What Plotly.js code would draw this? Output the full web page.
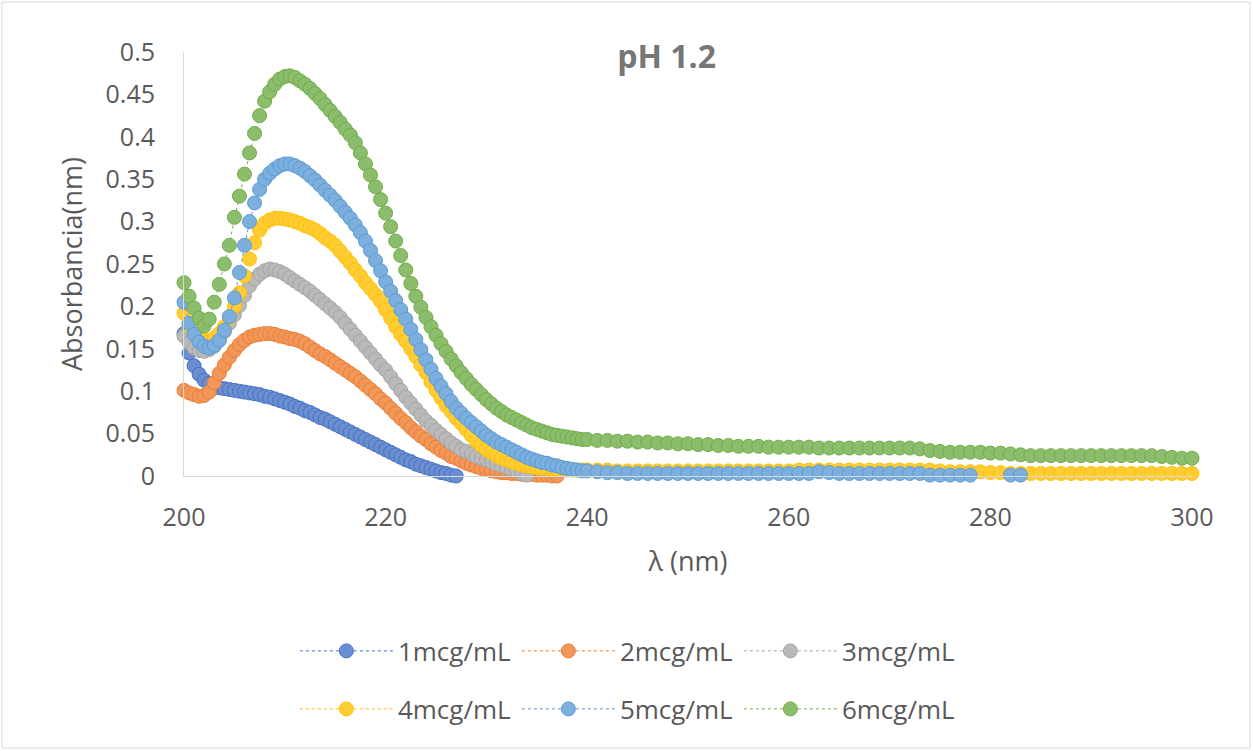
<!DOCTYPE html>
<html>
<head>
<meta charset="utf-8">
<script src="https://cdn.plot.ly/plotly-3.0.1.min.js"></script>
<style>html,body{margin:0;padding:0;background:#fff;}#chart{width:1253px;height:751px;}</style>
</head>
<body>
<div id="chart"></div>
<script>
// wavelength grid (nm) as sampled
const wavelength = [
200,200.5,201,201.5,202,202.5,203,203.5,204,204.5,
205,205.5,206,206.5,207,207.5,208,208.5,209,209.5,
210,210.5,211,211.5,212,212.5,213,213.5,214,214.5,
215,215.5,216,216.5,217,217.5,218,218.5,219,219.5,
220,220.5,221,221.5,222,222.5,223,223.5,224,224.5,
225,225.5,226,226.5,227,227.5,228,228.5,229,229.5,
230,230.5,231,231.5,232,232.5,233,233.5,234,234.5,
235,235.5,236,236.5,237,237.5,238,238.5,239,239.5,
240,
241,242,243,244,245,246,247,248,249,250,
251,252,253,254,255,256,257,258,259,260,
261,262,263,264,265,266,267,268,269,270,
271,272,273,274,275,276,277,278,279,280,
281,282,283,284,285,286,287,288,289,290,
291,292,293,294,295,296,297,298,299,300];

const seriesNames = ['1mcg/mL','2mcg/mL','3mcg/mL','4mcg/mL','5mcg/mL','6mcg/mL'];

const abs1 = [
0.168,0.145,0.130,0.120,0.113,0.109,0.106,0.104,0.103,0.102,
0.101,0.100,0.099,0.098,0.097,0.096,0.094,0.093,0.091,0.089,
0.087,0.085,0.082,0.080,0.077,0.075,0.072,0.069,0.067,0.064,
0.061,0.058,0.055,0.052,0.049,0.046,0.043,0.040,0.037,0.034,
0.031,0.028,0.025,0.022,0.019,0.017,0.014,0.012,0.010,0.008,
0.006,0.004,0.003,0.001,0.000];

const abs2 = [
0.101,0.098,0.096,0.094,0.095,0.099,0.110,0.121,0.131,0.140,
0.148,0.155,0.160,0.164,0.166,0.167,0.168,0.168,0.167,0.165,
0.164,0.162,0.161,0.159,0.156,0.152,0.148,0.144,0.141,0.137,
0.133,0.129,0.125,0.121,0.117,0.112,0.107,0.102,0.097,0.091,
0.086,0.080,0.074,0.068,0.063,0.057,0.052,0.047,0.043,0.038,
0.034,0.030,0.027,0.023,0.021,0.018,0.015,0.013,0.011,0.009,
0.008,0.006,0.005,0.004,0.004,0.003,0.003,0.002,0.002,0.002,
0.001,0.001,0.001,0.000,0.000];

const abs3 = [
0.165,0.157,0.151,0.148,0.147,0.149,0.153,0.160,0.170,0.180,
0.190,0.201,0.213,0.224,0.232,0.238,0.242,0.244,0.243,0.241,
0.238,0.234,0.230,0.226,0.222,0.218,0.213,0.208,0.203,0.198,
0.193,0.187,0.180,0.173,0.166,0.159,0.152,0.145,0.138,0.131,
0.125,0.117,0.109,0.101,0.093,0.086,0.079,0.072,0.065,0.060,
0.054,0.049,0.044,0.039,0.035,0.031,0.029,0.026,0.023,0.021,
0.019,0.017,0.014,0.012,0.010,0.008,0.006,0.003,0.001];

const abs4 = [
0.192,0.178,0.168,0.162,0.160,0.160,0.163,0.168,0.176,0.187,
0.200,0.216,0.236,0.256,0.275,0.290,0.298,0.302,0.304,0.304,
0.303,0.302,0.300,0.298,0.295,0.293,0.290,0.286,0.281,0.277,
0.272,0.265,0.258,0.251,0.243,0.236,0.228,0.221,0.214,0.206,
0.196,0.186,0.176,0.167,0.159,0.150,0.141,0.131,0.122,0.111,
0.101,0.092,0.083,0.076,0.068,0.062,0.055,0.048,0.041,0.036,
0.031,0.028,0.024,0.021,0.019,0.017,0.015,0.013,0.012,0.011,
0.010,0.009,0.009,0.008,0.008,0.008,0.007,0.007,0.007,0.007,
0.007,
0.007,0.007,0.006,0.006,0.006,0.006,0.006,0.006,0.006,0.006,
0.006,0.006,0.006,0.006,0.006,0.006,0.006,0.006,0.006,0.006,
0.007,0.007,0.007,0.007,0.007,0.007,0.007,0.007,0.007,0.007,
0.007,0.007,0.007,0.007,0.006,0.005,0.005,0.005,0.005,0.004,
0.004,0.003,0.003,0.003,0.003,0.003,0.003,0.003,0.003,0.003,
0.003,0.003,0.003,0.003,0.003,0.003,0.003,0.003,0.003,0.003];

const abs5 = [
0.205,0.180,0.167,0.158,0.153,0.151,0.154,0.160,0.172,0.188,
0.210,0.240,0.272,0.300,0.322,0.338,0.350,0.357,0.362,0.366,
0.368,0.368,0.366,0.363,0.359,0.354,0.349,0.343,0.337,0.331,
0.325,0.318,0.311,0.304,0.296,0.287,0.277,0.266,0.254,0.242,
0.229,0.218,0.207,0.196,0.185,0.173,0.161,0.149,0.137,0.126,
0.115,0.106,0.097,0.088,0.080,0.074,0.068,0.063,0.058,0.053,
0.048,0.044,0.040,0.037,0.034,0.031,0.028,0.025,0.022,0.020,
0.018,0.016,0.015,0.013,0.012,0.010,0.009,0.008,0.007,0.006,
0.006,
0.005,0.004,0.004,0.003,0.003,0.003,0.003,0.003,0.003,0.003,
0.003,0.003,0.003,0.003,0.003,0.003,0.003,0.003,0.003,0.003,
0.003,0.003,0.005,0.004,0.003,0.003,0.003,0.003,0.003,0.003,
0.003,0.003,0.003,0.001,0.001,0.001,0.001,0.001,null,null,
null,0.001,0.001];

const abs6 = [
0.228,0.212,0.198,0.186,0.177,0.185,0.205,0.226,0.250,0.272,
0.305,0.330,0.356,0.381,0.404,0.425,0.442,0.453,0.462,0.468,
0.471,0.472,0.470,0.466,0.462,0.457,0.451,0.445,0.438,0.431,
0.424,0.417,0.409,0.402,0.393,0.381,0.368,0.355,0.341,0.326,
0.310,0.294,0.277,0.260,0.243,0.227,0.212,0.199,0.187,0.176,
0.166,0.156,0.147,0.138,0.130,0.122,0.115,0.108,0.102,0.096,
0.090,0.085,0.080,0.076,0.072,0.069,0.066,0.063,0.060,0.057,
0.055,0.053,0.051,0.049,0.048,0.047,0.046,0.045,0.044,0.043,
0.043,
0.042,0.042,0.041,0.041,0.040,0.040,0.039,0.039,0.038,0.038,
0.037,0.037,0.036,0.036,0.035,0.035,0.035,0.034,0.034,0.034,
0.034,0.034,0.033,0.033,0.033,0.033,0.033,0.033,0.033,0.033,
0.033,0.033,0.032,0.030,0.029,0.028,0.028,0.028,0.028,0.027,
0.027,0.026,0.025,0.024,0.024,0.024,0.024,0.024,0.024,0.024,
0.024,0.024,0.024,0.024,0.024,0.024,0.023,0.022,0.021,0.021];

const xTickVals = [200, 220, 240, 260, 280, 300];
const yTickVals = [0,0.05,0.1,0.15,0.2,0.25,0.3,0.35,0.4,0.45,0.5];
const yTickText = ['0','0.05','0.1','0.15','0.2','0.25','0.3','0.35','0.4','0.45','0.5'];

const lineColors = ['#4472C4','#ED7D31','#A5A5A5','#FFC000','#5B9BD5','#70AD47'];
const fillColors = ['#6A8ED0','#F1975A','#B9B9B9','#FFCD33','#7CAFDD','#8CBD6C'];

const seriesData = [abs1, abs2, abs3, abs4, abs5, abs6];
const FONT = '"Open Sans", "Noto Sans", sans-serif';
const TEXT = '#595959';

const traces = seriesData.map((vals, i) => ({
  type: 'scatter',
  mode: 'lines+markers',
  name: seriesNames[i],
  x: wavelength.slice(0, vals.length),
  y: vals,
  cliponaxis: false,
  connectgaps: false,
  legend: i < 3 ? 'legend' : 'legend2',
  line: {color: lineColors[i], width: 1, dash: 'dot'},
  marker: {size: 14, color: fillColors[i], line: {color: lineColors[i], width: 1}},
  hoverinfo: 'x+y+name'
}));

const legendBase = {
  orientation: 'h', xanchor: 'left', yanchor: 'middle',
  font: {family: FONT, size: 26, color: TEXT},
  bgcolor: 'rgba(0,0,0,0)', borderwidth: 0,
  itemwidth: 93, entrywidth: 114, entrywidthmode: 'pixels',
  traceorder: 'normal'
};

const layout = {
  width: 1253, height: 751,
  margin: {l: 184, r: 61, t: 52, b: 275, autoexpand: false},
  paper_bgcolor: '#ffffff', plot_bgcolor: '#ffffff',
  font: {family: FONT, color: TEXT},
  showlegend: true,
  title: {
    text: '<b>pH 1.2</b>',
    font: {family: FONT, size: 32, color: '#767676'},
    x: 0.532, xref: 'container', xanchor: 'center',
    y: 0.924, yref: 'container', yanchor: 'middle'
  },
  xaxis: {
    range: [200, 300], tickmode: 'array', tickvals: xTickVals,
    showline: true, linecolor: '#D9D9D9', linewidth: 1,
    showgrid: false, zeroline: false, ticks: '',
    ticklabelstandoff: 19,
    tickfont: {family: FONT, size: 25, color: TEXT},
    title: {text: 'λ (nm)', font: {family: FONT, size: 27, color: TEXT}, standoff: 20}
  },
  yaxis: {
    range: [0, 0.5], tickmode: 'array', tickvals: yTickVals, ticktext: yTickText,
    showline: true, linecolor: '#D9D9D9', linewidth: 1,
    showgrid: false, zeroline: false, ticks: '',
    ticklabelstandoff: 23,
    tickfont: {family: FONT, size: 25, color: TEXT},
    title: {text: 'Absorbancia(nm)', font: {family: FONT, size: 27, color: TEXT}, standoff: 15}
  },
  legend: Object.assign({}, legendBase, {x: 0.110, y: -0.4127}),
  legend2: Object.assign({}, legendBase, {x: 0.110, y: -0.5495}),
  shapes: [{
    type: 'rect', xref: 'paper', yref: 'paper',
    x0: -0.1806, x1: 1.0575, y0: -0.6415, y1: 1.1179,
    line: {color: '#D9D9D9', width: 1}, fillcolor: 'rgba(0,0,0,0)', layer: 'below'
  }]
};

Plotly.newPlot('chart', traces, layout, {displayModeBar: false, responsive: false});
</script>
</body>
</html>
